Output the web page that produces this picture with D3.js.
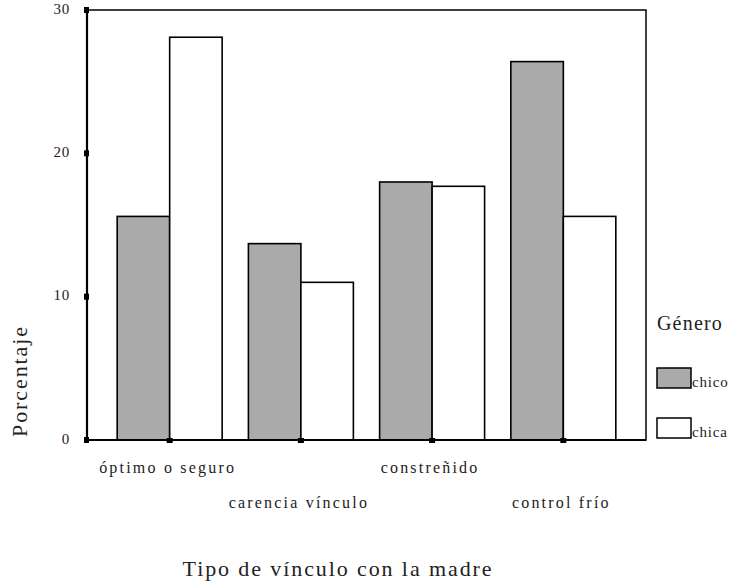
<!DOCTYPE html>
<html><head><meta charset="utf-8">
<script src="https://cdn.jsdelivr.net/npm/d3@7"></script>
<style>body{margin:0;background:#fff}svg{display:block}</style>
</head><body>
<script>
const categories = ["óptimo o seguro", "carencia vínculo", "constreñido", "control frío"];
const series = ["chico", "chica"];
const chico = [15.6, 13.7, 18.0, 26.4];
const chica = [28.1, 11.0, 17.7, 15.6];
const yTicks = [0, 10, 20, 30];
const colors = ["#aaaaaa", "#ffffff"];

const FONT = "'Liberation Serif', 'DejaVu Serif', 'Times New Roman', serif";
const W = 737, H = 584;
const m = {left: 87, top: 10, right: 646, bottom: 440};
const svg = d3.select("body").append("svg").attr("width", W).attr("height", H);

const x = d3.scaleBand().domain(categories).range([m.left, m.right]).paddingInner(0.2).paddingOuter(0.23);
const xs = d3.scaleBand().domain(series).range([0, x.bandwidth()]);
const y = d3.scaleLinear().domain([0, 30]).range([m.bottom, m.top]);
const color = d3.scaleOrdinal().domain(series).range(colors);

function txt(sel, size, ls) {
  return sel.style("font-family", FONT).style("font-size", size + "px").style("letter-spacing", ls + "px").attr("fill", "#222");
}

// frame
svg.append("rect").attr("x", m.left).attr("y", m.top).attr("width", m.right - m.left).attr("height", m.bottom - m.top)
  .attr("fill", "none").attr("stroke", "#000").attr("stroke-width", 1.5);

const data = categories.map((c, i) => ({c, vals: [{s: "chico", v: chico[i]}, {s: "chica", v: chica[i]}]}));
const g = svg.append("g").selectAll("g").data(data).join("g").attr("transform", d => `translate(${x(d.c)},0)`);
g.selectAll("rect").data(d => d.vals).join("rect")
  .attr("x", d => xs(d.s)).attr("width", xs.bandwidth())
  .attr("y", d => y(d.v)).attr("height", d => y(0) - y(d.v))
  .attr("fill", d => color(d.s)).attr("stroke", "#000").attr("stroke-width", 1.6);

// axes lines
svg.append("line").attr("x1", m.left).attr("x2", m.left).attr("y1", m.top).attr("y2", m.bottom).attr("stroke", "#000").attr("stroke-width", 2.2);
svg.append("line").attr("x1", m.left).attr("x2", m.right).attr("y1", m.bottom).attr("y2", m.bottom).attr("stroke", "#000").attr("stroke-width", 2.2);

// y axis
const yAxis = d3.axisLeft(y).tickValues(yTicks).tickSize(0).tickPadding(17);
const ya = svg.append("g").attr("transform", `translate(${m.left},0)`).call(yAxis);
ya.select(".domain").remove();
txt(ya.selectAll("text"), 15, 0.8).attr("dy", "0.2em");
svg.append("g").selectAll("rect").data(yTicks).join("rect")
  .attr("x", m.left - 3).attr("y", d => y(d) - 3).attr("width", 5).attr("height", 6).attr("fill", "#000");

// x ticks
svg.append("g").selectAll("rect").data(categories).join("rect")
  .attr("x", d => x(d) + x.bandwidth() / 2 - 3).attr("y", m.bottom - 2).attr("width", 6).attr("height", 5).attr("fill", "#000");
txt(svg.append("g").selectAll("text").data(categories).join("text")
  .attr("x", d => x(d) + x.bandwidth() / 2 - 2).attr("y", (d, i) => i % 2 === 0 ? 473 : 508)
  .attr("text-anchor", "middle").text(d => d), 16, 2.2);

// axis titles
txt(svg.append("text").attr("x", 338).attr("y", 576).attr("text-anchor", "middle").text("Tipo de vínculo con la madre"), 22, 1.9);
txt(svg.append("text").attr("transform", "translate(27,381) rotate(-90)").attr("text-anchor", "middle").text("Porcentaje"), 22, 1.9);

// legend
txt(svg.append("text").attr("x", 690).attr("y", 330).attr("text-anchor", "middle").text("Género"), 20, 1.2);
const lg = svg.append("g").selectAll("g").data(series).join("g").attr("transform", (d, i) => `translate(657,${368 + i * 50})`);
lg.append("rect").attr("width", 34).attr("height", 20).attr("fill", d => color(d)).attr("stroke", "#000").attr("stroke-width", 1.5);
txt(lg.append("text").attr("x", 35).attr("y", 19).text(d => d), 15, 0.8);
</script>
</body></html>
